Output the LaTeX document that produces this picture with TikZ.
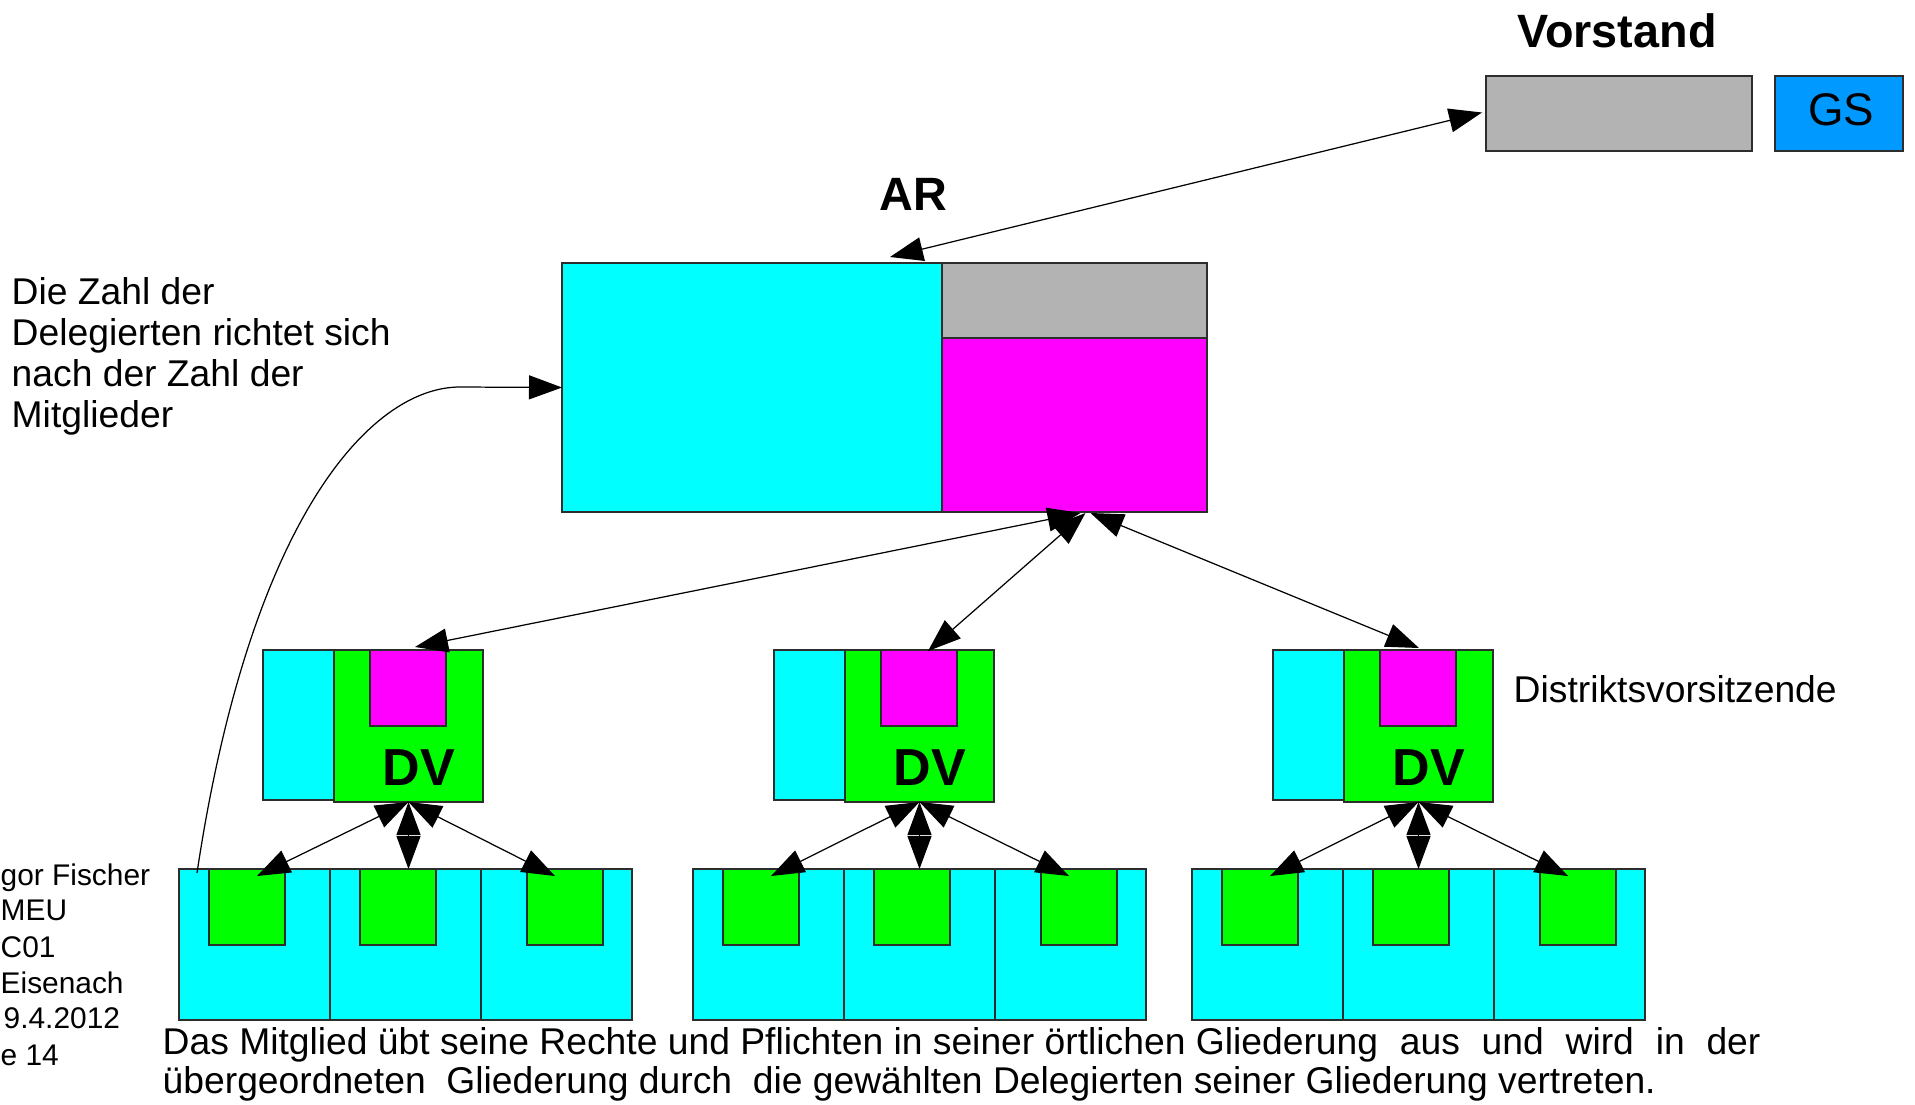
\documentclass[tikz,border=0pt]{standalone}
\usepackage{fontspec}
\setmainfont{Liberation Sans}
\usetikzlibrary{arrows.meta,calc}
\definecolor{cy}{RGB}{0,255,255}
\definecolor{gr}{RGB}{0,255,0}
\definecolor{mg}{RGB}{255,0,255}
\definecolor{gy}{RGB}{179,179,179}
\definecolor{gsblue}{RGB}{0,153,255}
\definecolor{edge}{RGB}{45,45,45}
\begin{document}
\begin{tikzpicture}[x=0.1mm,y=-0.1mm,
  box/.style={draw=edge,line width=0.42pt,inner sep=0pt,outer sep=0pt,anchor=north west},
  conn/.style={line width=0.35pt,{Triangle[length=3.3mm,width=2.4mm]}-{Triangle[length=3.3mm,width=2.4mm]}},
  oneway/.style={line width=0.35pt,-{Triangle[length=3.3mm,width=2.4mm]}},
  txt/.style={inner sep=0pt,anchor=base west,font=\fontsize{10.6}{12.5}\selectfont},
  small/.style={inner sep=0pt,anchor=base west,font=\fontsize{8.5}{10}\selectfont},
  bigbold/.style={inner sep=0pt,anchor=base,font=\fontsize{13.3}{15}\selectfont\bfseries},
  dvfont/.style={inner sep=0pt,anchor=base,font=\fontsize{14.8}{17}\selectfont\bfseries}]
\useasboundingbox (0,0) rectangle (1915,1104);

% Vorstand
\node[bigbold] (vorstandlbl) at (1617,47) {Vorstand};
\node[box,fill=gy,minimum width=26.6mm,minimum height=7.5mm] (vorstand) at (1486,76) {};
\node[box,fill=gsblue,minimum width=12.8mm,minimum height=7.5mm] (gs) at (1775,76) {};
\node[inner sep=0pt,anchor=base,font=\fontsize{13}{15}\selectfont] (gslbl) at (1841,125) {GS};

% AR
\node[bigbold] (arlbl) at (913,210) {AR};
\node[box,fill=cy,minimum width=38mm,minimum height=24.9mm] (arcyan) at (562,263) {};
\node[box,fill=gy,minimum width=26.5mm,minimum height=7.5mm] (argray) at (942,263) {};
\node[box,fill=mg,minimum width=26.5mm,minimum height=17.4mm] (armag) at (942,338) {};

% left explanation
\node[txt] (l1) at (11,304) {Die Zahl der};
\node[txt] (l2) at (11,345) {Delegierten richtet sich};
\node[txt] (l3) at (11,386) {nach der Zahl der};
\node[txt] (l4) at (11,427) {Mitglieder};

\node[txt] (dist) at (1513,702) {Distriktsvorsitzende};

% groups
\foreach \i/\dx/\rx in {1/263/179,2/774/693,3/1273/1192}{
  \node[box,fill=cy,minimum width=7.1mm,minimum height=15mm] (dvc\i) at (\dx,650) {};
  \node[box,fill=gr,minimum width=14.9mm,minimum height=15.2mm] (dvg\i) at ({\dx+71},650) {};
  \node[box,fill=mg,minimum width=7.6mm,minimum height=7.6mm] (dvm\i) at ({\dx+107},650) {};
  \node[dvfont] (dvl\i) at ({\dx+156},785) {DV};
  \node[box,fill=cy,minimum width=15.1mm,minimum height=15.1mm] (ca\i) at (\rx,869) {};
  \node[box,fill=cy,minimum width=15.1mm,minimum height=15.1mm] (cb\i) at ({\rx+151},869) {};
  \node[box,fill=cy,minimum width=15.1mm,minimum height=15.1mm] (cc\i) at ({\rx+302},869) {};
  \node[box,fill=gr,minimum width=7.6mm,minimum height=7.6mm] (ga\i) at ({\rx+30},869) {};
  \node[box,fill=gr,minimum width=7.6mm,minimum height=7.6mm] (gb\i) at ({\rx+181},869) {};
  \node[box,fill=gr,minimum width=7.6mm,minimum height=7.6mm] (gc\i) at ({\rx+348},869) {};
  \draw[conn] (dvg\i.south) -- ($(ga\i.north)+(10,7)$);
  \draw[conn] (dvg\i.south) -- (dvg\i.south |- cb\i.north);
  \draw[conn] (dvg\i.south) -- ($(gc\i.north)+(-10,7)$);
}

% AR <-> DV
\draw[conn] ($(armag.south)+(6,1)$) -- ($(dvm1.north)+(7,-3)$);
\draw[conn] ($(armag.south)+(11,1)$) -- ($(dvm2.north)+(9,1)$);
\draw[conn] ($(armag.south)+(16,1)$) -- ($(dvm3.north)+(1,-2)$);

% AR <-> Vorstand
\draw[conn] ($(arcyan.north east)+(-52,-6)$) -- ($(vorstand.west)+(-4,-1)$);

% curve from members to AR
\draw[oneway] ($(ca1.north west)+(18,4)$) .. controls (250,520) and (370,387) .. (460,387) -- (arcyan.west);

% footer (clipped at the left edge)
\node[small] (f1) at (0,885) {gor Fischer};
\node[small] (f2) at (0,920) {MEU};
\node[small] (f3) at (0,957) {C01};
\node[small] (f4) at (0,993) {Eisenach};
\node[small] (f5) at (3,1028) {9.4.2012};
\node[small] (f6) at (0,1065) {e 14};

% bottom text
\node[txt] (b1) at (162,1054) {\hbox to 159.8mm{Das Mitglied übt seine Rechte und Pflichten in seiner örtlichen Gliederung\hfill aus\hfill und\hfill wird\hfill in\hfill der}};
\node[txt] (b2) at (162,1093) {übergeordneten\ \ Gliederung durch\ \ die gewählten Delegierten seiner Gliederung vertreten.};
\end{tikzpicture}
\end{document}
